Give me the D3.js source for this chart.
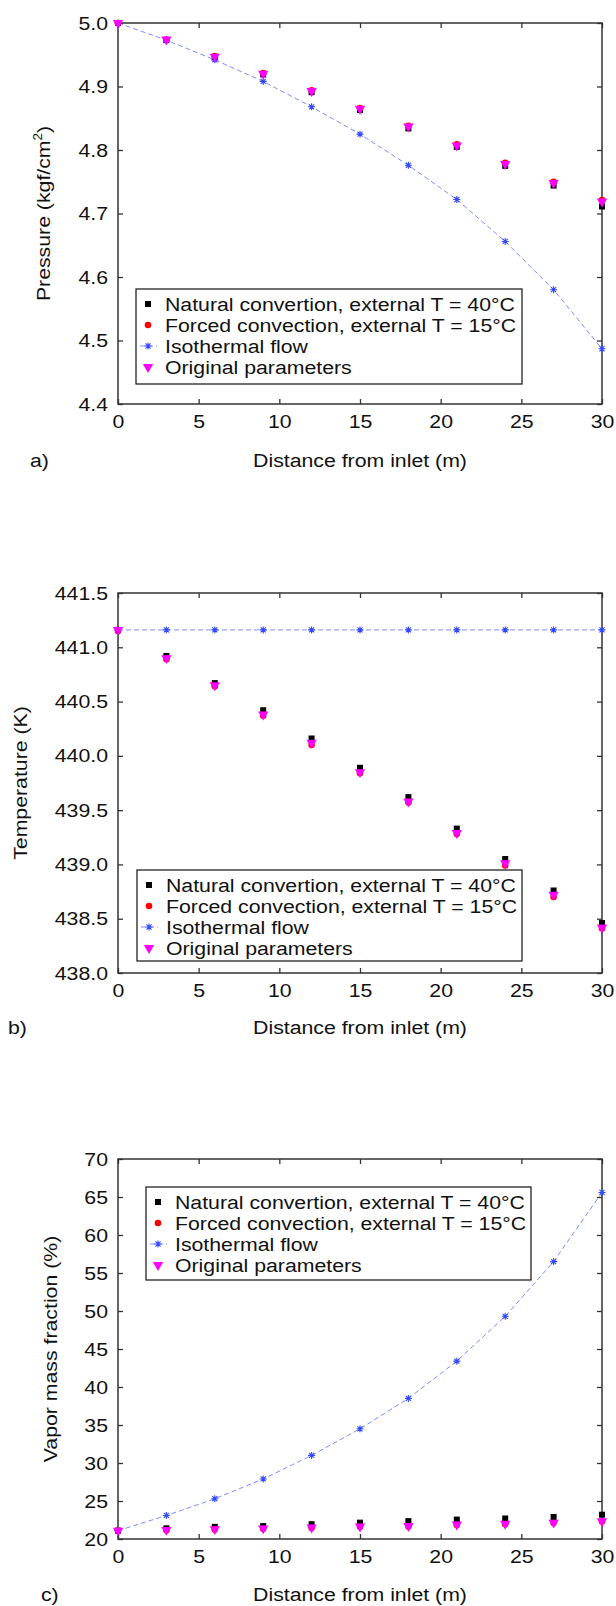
<!DOCTYPE html>
<html>
<head>
<meta charset="utf-8">
<script src="https://cdn.jsdelivr.net/npm/d3@7"></script>
<style>
	html, body { margin: 0; padding: 0; background: #fff; }
	svg { display: block; }
	text { font-family: "Liberation Sans", Arial, Helvetica, sans-serif; fill: #111; }
</style>
</head>
<body>
<svg id="chart" width="616" height="1606"></svg>
<script>
	// distance along the pipe (m)
	const distance = [0, 3, 6, 9, 12, 15, 18, 21, 24, 27, 30];
	const distanceTicks = [0, 5, 10, 15, 20, 25, 30];

	const legendLabels = [
		'Natural convertion, external T = 40\u00B0C',
		'Forced convection, external T = 15\u00B0C',
		'Isothermal flow',
		'Original parameters'
	];

	// a) pressure (kgf/cm2)
	const pressureTicks = [4.4, 4.5, 4.6, 4.7, 4.8, 4.9, 5.0];
	const pressureNatural = [5.000, 4.973, 4.946, 4.919, 4.891, 4.863, 4.834, 4.805, 4.775, 4.744, 4.711];
	const pressureForced = [5.000, 4.974, 4.948, 4.921, 4.894, 4.866, 4.838, 4.809, 4.780, 4.750, 4.721];
	const pressureIsothermal = [5.000, 4.973, 4.942, 4.908, 4.868, 4.825, 4.776, 4.722, 4.656, 4.580, 4.487];
	const pressureOriginal = [5.000, 4.974, 4.947, 4.920, 4.893, 4.865, 4.837, 4.807, 4.778, 4.748, 4.719];

	// b) temperature (K)
	const temperatureTicks = [438.0, 438.5, 439.0, 439.5, 440.0, 440.5, 441.0, 441.5];
	const temperatureNatural = [441.16, 440.92, 440.67, 440.42, 440.16, 439.89, 439.62, 439.33, 439.05, 438.76, 438.46];
	const temperatureForced = [441.15, 440.89, 440.64, 440.37, 440.10, 439.84, 439.57, 439.28, 438.99, 438.70, 438.41];
	const temperatureIsothermal = [441.16, 441.16, 441.16, 441.16, 441.16, 441.16, 441.16, 441.16, 441.16, 441.16, 441.16];
	const temperatureOriginal = [441.16, 440.90, 440.65, 440.38, 440.12, 439.85, 439.58, 439.29, 439.01, 438.72, 438.42];

	// c) vapor mass fraction (%)
	const vaporTicks = [20, 25, 30, 35, 40, 45, 50, 55, 60, 65, 70];
	const vaporNatural = [21.1, 21.4, 21.6, 21.7, 21.95, 22.15, 22.35, 22.55, 22.7, 22.9, 23.2];
	const vaporForced = [21.1, 21.15, 21.25, 21.35, 21.45, 21.6, 21.65, 21.85, 21.95, 22.1, 22.3];
	const vaporIsothermal = [21.1, 23.1, 25.3, 27.9, 31.0, 34.5, 38.5, 43.4, 49.3, 56.5, 65.6];
	const vaporOriginal = [21.1, 21.2, 21.3, 21.4, 21.5, 21.65, 21.7, 21.9, 22.0, 22.15, 22.35];

	var FONT = '"Liberation Sans", Arial, Helvetica, sans-serif';
	var FONT_SIZE = 19;
	var SX = 1.12; // the figure's lettering is a little wider than plain Arial
	var plotLeft = 118;
	var plotRight = 602;
	var lineColor = '#7f8cff';
	var starColor = '#3347ff';

	var svg = d3.select('#chart');

	// gnuplot style "*" : plus and cross on top of each other
	function starPath(s) {
		var h = s / 2, d = h * 0.72;
		return 'M' + (-h) + ',0H' + h + 'M0,' + (-h) + 'V' + h +
			'M' + (-d) + ',' + (-d) + 'L' + d + ',' + d +
			'M' + (-d) + ',' + d + 'L' + d + ',' + (-d);
	}

	function drawMarker(g, kind, cx, cy) {
		if (kind === 'natural') {
			g.append('rect')
				.attr('x', cx - 3).attr('y', cy - 3)
				.attr('width', 6).attr('height', 6)
				.attr('fill', '#000');
		} else if (kind === 'forced') {
			g.append('circle')
				.attr('cx', cx).attr('cy', cy).attr('r', 3.3)
				.attr('fill', '#ff0000');
		} else if (kind === 'isothermal') {
			g.append('path')
				.attr('d', starPath(7))
				.attr('transform', 'translate(' + cx + ',' + cy + ')')
				.attr('stroke', starColor)
				.attr('stroke-width', 1.1)
				.attr('fill', 'none');
		} else {
			g.append('path')
				.attr('d', d3.symbol().type(d3.symbolTriangle).size(46)())
				.attr('transform', 'translate(' + cx + ',' + cy + ') rotate(180)')
				.attr('fill', '#ff00ff');
		}
	}

	// text with the horizontal stretch applied around its own anchor
	function addText(parent, x, y, str) {
		return parent.append('text')
			.attr('x', x / SX).attr('y', y)
			.attr('transform', 'scale(' + SX + ',1)')
			.attr('font-size', FONT_SIZE)
			.text(str);
	}

	function drawPanel(p) {
		var x = d3.scaleLinear().domain([0, 30]).range([plotLeft, plotRight]);
		var y = d3.scaleLinear().domain([p.ticks[0], p.ticks[p.ticks.length - 1]]).range([p.bottom, p.top]);
		var g = svg.append('g').attr('class', 'panel');

		// 軸 (ticks pointing inward on all four sides)
		var bottomAxis = g.append('g')
			.attr('transform', 'translate(0,' + p.bottom + ')')
			.call(d3.axisBottom(x).tickValues(distanceTicks).tickSize(-5).tickPadding(11).tickFormat(d3.format('d')));
		g.append('g')
			.attr('transform', 'translate(0,' + p.top + ')')
			.call(d3.axisTop(x).tickValues(distanceTicks).tickSize(-5).tickFormat(''));
		var leftAxis = g.append('g')
			.attr('transform', 'translate(' + plotLeft + ',0)')
			.call(d3.axisLeft(y).tickValues(p.ticks).tickSize(-5).tickPadding(10).tickFormat(d3.format(p.format)));
		g.append('g')
			.attr('transform', 'translate(' + plotRight + ',0)')
			.call(d3.axisRight(y).tickValues(p.ticks).tickSize(-5).tickFormat(''));

		g.selectAll('.domain').remove();
		g.selectAll('.tick line').attr('stroke', '#333').attr('stroke-width', 1.3);
		g.selectAll('.tick text').attr('fill', '#111');
		g.selectAll('g').filter(function() { return this.parentNode === g.node(); })
			.attr('font-size', FONT_SIZE).attr('font-family', FONT);
		bottomAxis.selectAll('.tick text').attr('transform', 'scale(' + SX + ',1)');
		leftAxis.selectAll('.tick text').attr('x', -10 / SX).attr('transform', 'scale(' + SX + ',1)');

		g.append('rect')
			.attr('x', plotLeft).attr('y', p.top)
			.attr('width', plotRight - plotLeft).attr('height', p.bottom - p.top)
			.attr('fill', 'none').attr('stroke', '#333').attr('stroke-width', 1.5);

		// isothermal dashed line
		var line = d3.line()
			.x(function(d, i) { return x(distance[i]); })
			.y(function(d) { return y(d); });
		g.append('path')
			.datum(p.isothermal)
			.attr('d', line)
			.attr('fill', 'none')
			.attr('stroke', lineColor)
			.attr('stroke-width', 1)
			.attr('stroke-dasharray', '5,3');

		var marks = g.append('g');
		[['natural', p.natural], ['forced', p.forced], ['isothermal', p.isothermal], ['original', p.original]]
			.forEach(function(s) {
				s[1].forEach(function(v, i) {
					drawMarker(marks, s[0], x(distance[i]), y(v));
				});
			});

		// 凡例
		var lg = g.append('g').attr('transform', 'translate(' + p.legend[0] + ',' + p.legend[1] + ')');
		lg.append('rect')
			.attr('width', p.legend[2]).attr('height', p.legend[3])
			.attr('fill', '#fff').attr('stroke', '#111').attr('stroke-width', 1.2);
		['natural', 'forced', 'isothermal', 'original'].forEach(function(kind, i) {
			var cy = 15 + i * 21;
			if (kind === 'isothermal') {
				lg.append('line')
					.attr('x1', 4).attr('x2', 21).attr('y1', cy).attr('y2', cy)
					.attr('stroke', lineColor).attr('stroke-width', 1).attr('stroke-dasharray', '5,3');
			}
			drawMarker(lg, kind, 12, cy);
			addText(lg, 29, cy + 7, legendLabels[i]);
		});

		// axis titles
		addText(g, (plotLeft + plotRight) / 2, p.xTitleY, 'Distance from inlet (m)')
			.attr('text-anchor', 'middle');

		var yt = g.append('text')
			.attr('transform', 'translate(' + p.yTitleX + ',' + (p.top + p.bottom) / 2 + ') rotate(-90) scale(' + SX + ',1)')
			.attr('text-anchor', 'middle')
			.attr('font-size', FONT_SIZE);
		p.yTitle.forEach(function(part) {
			var t = yt.append('tspan').text(part[0]);
			if (part[1]) t.attr('font-size', 12).attr('dy', -8);
			else if (part[2]) t.attr('dy', 8);
		});

		addText(g, p.tag[0], p.tag[1], p.tag[2]);
	}

	drawPanel({
		top: 23, bottom: 404,
		ticks: pressureTicks, format: '.1f',
		natural: pressureNatural, forced: pressureForced,
		isothermal: pressureIsothermal, original: pressureOriginal,
		legend: [136, 289, 386, 95],
		xTitleY: 467,
		yTitleX: 50,
		yTitle: [['Pressure (kgf/cm'], ['2', true], [')', false, true]],
		tag: [30, 467, 'a)']
	});

	drawPanel({
		top: 593, bottom: 973,
		ticks: temperatureTicks, format: '.1f',
		natural: temperatureNatural, forced: temperatureForced,
		isothermal: temperatureIsothermal, original: temperatureOriginal,
		legend: [137, 870, 385, 91],
		xTitleY: 1034,
		yTitleX: 27,
		yTitle: [['Temperature (K)']],
		tag: [8, 1034, 'b)']
	});

	drawPanel({
		top: 1159, bottom: 1539,
		ticks: vaporTicks, format: 'd',
		natural: vaporNatural, forced: vaporForced,
		isothermal: vaporIsothermal, original: vaporOriginal,
		legend: [146, 1187, 385, 93],
		xTitleY: 1601,
		yTitleX: 57,
		yTitle: [['Vapor mass fraction (%)']],
		tag: [41, 1601, 'c)']
	});
</script>
</body>
</html>
